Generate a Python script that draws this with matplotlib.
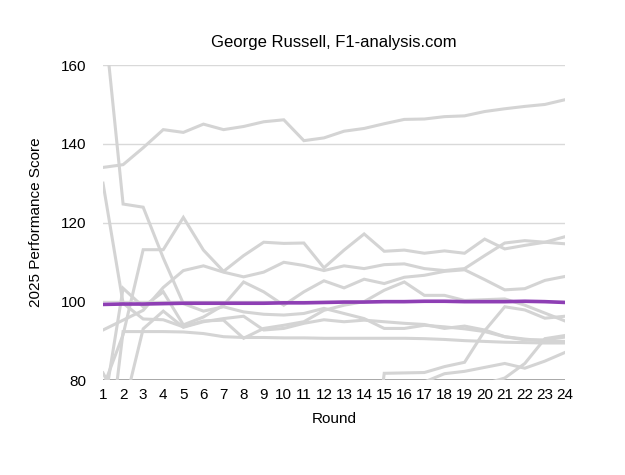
import matplotlib.pyplot as plt
import numpy as np

plt.rcParams['font.family'] = ['Liberation Sans', 'DejaVu Sans']

rounds = list(range(1, 25))

# George Russell
russell = [99.2, 99.3, 99.3, 99.4, 99.5, 99.5, 99.5, 99.5, 99.5, 99.6, 99.6, 99.7,
           99.8, 99.8, 99.9, 99.9, 100.0, 100.0, 99.9, 99.9, 99.9, 100.0, 99.9, 99.7]

# other drivers (grey)
others = [
    [134.0, 134.7, 139.0, 143.6, 142.9, 145.0, 143.6, 144.4, 145.6, 146.1, 140.8, 141.5,
     143.2, 143.9, 145.1, 146.2, 146.3, 146.9, 147.1, 148.2, 148.9, 149.5, 150.0, 151.2],
    [175.0, 124.7, 123.9, 111.0, 99.4, 97.5, 98.6, 97.3, 96.7, 96.5, 96.9, 98.2,
     96.9, 95.6, 93.1, 93.1, 93.9, 93.5, 93.0, 92.3, 91.0, 90.4, 89.9, 89.8],
    [130.0, 99.5, 95.5, 95.3, 93.5, 95.0, 95.2, 90.6, 93.1, 93.9, 94.8, 97.7,
     99.0, 99.9, 102.8, 104.9, 101.5, 101.5, 100.2, 100.4, 100.6, 99.0, 97.0, 95.0],
    [71.6, 103.3, 98.6, 102.4, 94.0, 96.0, 99.0, 104.9, 102.4, 99.0, 102.4, 105.2,
     103.4, 105.6, 104.5, 106.1, 106.6, 107.6, 108.0, 105.5, 102.9, 103.2, 105.3, 106.3],
    [81.8, 72.0, 93.0, 97.5, 93.4, 94.8, 95.6, 96.2, 92.7, 93.1, 94.4, 95.3,
     94.8, 95.2, 94.8, 94.4, 94.1, 93.1, 93.7, 92.7, 91.0, 90.2, 90.2, 90.9],
    [50.0, 92.3, 92.3, 92.3, 92.2, 91.8, 91.0, 90.8, 90.8, 90.7, 90.7, 90.6,
     90.6, 90.6, 90.6, 90.6, 90.5, 90.3, 90.0, 89.8, 89.6, 89.5, 89.4, 89.4],
    [78.0, 91.5, 113.1, 113.1, 121.3, 113.0, 107.6, 111.6, 115.0, 114.7, 114.8, 108.5,
     113.0, 117.1, 112.7, 113.0, 112.2, 112.8, 112.2, 115.8, 113.3, 114.2, 115.0, 114.6],
    [92.7, 95.2, 97.7, 103.5, 107.8, 109.0, 107.4, 106.2, 107.4, 109.9, 109.1, 107.8,
     109.0, 108.3, 109.3, 109.5, 108.3, 107.8, 108.3, 111.6, 114.8, 115.4, 115.0, 116.4],
    [78.0, 77.0, 76.0, 76.0, 75.0, 75.0, 75.0, 74.0, 74.0, 74.0, 73.0, 70.0,
     60.0, 40.0, 81.7, 81.8, 81.9, 83.4, 84.5, 92.5, 98.6, 97.8, 95.7, 96.2],
    [75.0, 75.0, 75.0, 75.0, 75.0, 75.0, 75.0, 75.0, 75.0, 75.0, 75.0, 75.0,
     75.0, 75.0, 75.0, 76.0, 79.5, 81.6, 82.2, 83.2, 84.2, 83.0, 84.8, 87.0],
    [70.0, 70.0, 70.0, 70.0, 70.0, 70.0, 70.0, 70.0, 70.0, 70.0, 70.0, 70.0,
     70.0, 70.0, 70.0, 70.0, 70.0, 70.0, 75.0, 79.0, 80.5, 84.2, 90.5, 91.3],
]

fig, ax = plt.subplots(figsize=(6.25, 4.75), dpi=100)
fig.subplots_adjust(left=0.1648, right=0.904, bottom=0.2, top=0.863)

for y in [100, 120, 140, 160]:
    ax.axhline(y, color='#d9d9d9', lw=1, zorder=0)

for vals in others:
    ax.plot(rounds, vals, color='#d4d4d4', lw=2.2, solid_joinstyle='miter', zorder=2)

ax.plot(rounds, russell, color='#8e3fb4', lw=2.6, zorder=3)

ax.set_xlim(1, 24)
ax.set_ylim(80, 160)
ax.set_xticks(rounds)
ax.set_yticks([80, 100, 120, 140, 160])
ax.tick_params(length=0, labelsize=11)
ax.tick_params(axis='y', pad=12)
ax.tick_params(axis='x', pad=6)
for s in ax.spines.values():
    s.set_visible(False)
ax.axhline(80, color='#9a9a9a', lw=1.2, zorder=1)

ax.set_title('George Russell, F1-analysis.com', fontsize=12, pad=13)
ax.set_xlabel('Round', fontsize=11, labelpad=7)
ax.set_ylabel('2025 Performance Score', fontsize=11, labelpad=13)

fig.savefig('out.png', dpi=100)
